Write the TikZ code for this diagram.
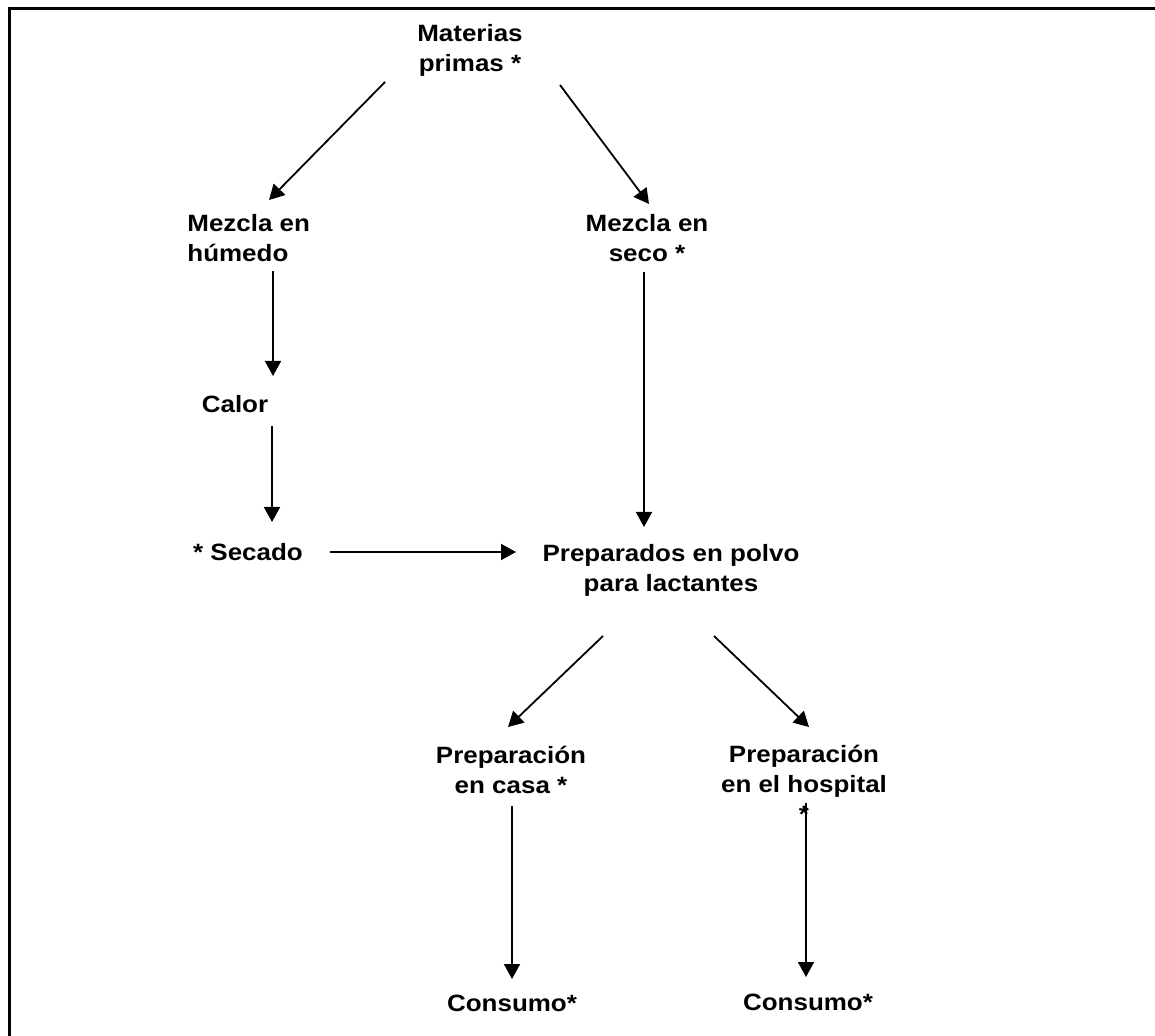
\documentclass[tikz,border=0pt]{standalone}
\usepackage{fontspec}
\setmainfont{Liberation Sans}[FakeStretch=1.1]
\usetikzlibrary{arrows.meta, positioning}

\tikzset{
    lbl/.style={font=\bfseries\fontsize{11.8}{15}\selectfont, inner sep=0pt, anchor=base},
    flow/.style={-{Triangle[length=7.5pt, width=8pt]}, line width=0.9pt}
}

\begin{document}
\begin{tikzpicture}[x=0.5pt, y=-0.5pt]
        \useasboundingbox (0,0) rectangle (1155,1036);
        % Frame (top and left only)
        \draw[line width=1.3pt] (9.5,1036) -- (9.5,8.5) -- (1155,8.5);
        % Steps (placed at the baseline of their last line)
        \node[lbl, align=center] (mat) at (470,72) {Materias\\primas *};
        \node[lbl, align=left, anchor=base west] (hum) at (187,262) {Mezcla en\\húmedo};
        \node[lbl, align=center] (sec) at (647,262) {Mezcla en\\seco *};
        \node[lbl] (cal) at (235,413) {Calor};
        \node[lbl] (sca) at (248,560) {* Secado};
        \node[lbl, align=center] (pol) at (671,591) {Preparados en polvo\\para lactantes};
        \node[lbl, align=center] (casa) at (511,793) {Preparación\\en casa *};
        \node[lbl, align=center] (hosp) at (804,822) {Preparación\\en el hospital\\*};
        \node[lbl] (con1) at (512,1011) {Consumo*};
        \node[lbl] (con2) at (808,1010) {Consumo*};
        % Wet branch
        \draw[flow] ([shift={(-85,10)}]mat.base) -- ([shift={(82,-62)}]hum.base west);
        \draw[flow] ([shift={(86,9)}]hum.base west) -- ([shift={(38,-37)}]cal.base);
        \draw[flow] ([shift={(37,13)}]cal.base) -- ([shift={(24,-38)}]sca.base);
        \draw[flow] ([shift={(82,-8)}]sca.base) -- ([shift={(-155,-39)}]pol.base);
        % Dry branch
        \draw[flow] ([shift={(90,13)}]mat.base) -- ([shift={(2,-58)}]sec.base);
        \draw[flow] ([shift={(-3,10)}]sec.base) -- ([shift={(-27,-64)}]pol.base);
        % Preparation and use
        \draw[flow] ([shift={(-68,45)}]pol.base) -- ([shift={(-3,-66)}]casa.base);
        \draw[flow] ([shift={(43,45)}]pol.base) -- ([shift={(5,-95)}]hosp.base);
        \draw[flow] ([shift={(1,13)}]casa.base) -- ([shift={(0,-32)}]con1.base);
        \draw[flow] ([shift={(2,-19)}]hosp.base) -- ([shift={(-2,-33)}]con2.base);
    \end{tikzpicture}
\end{document}
